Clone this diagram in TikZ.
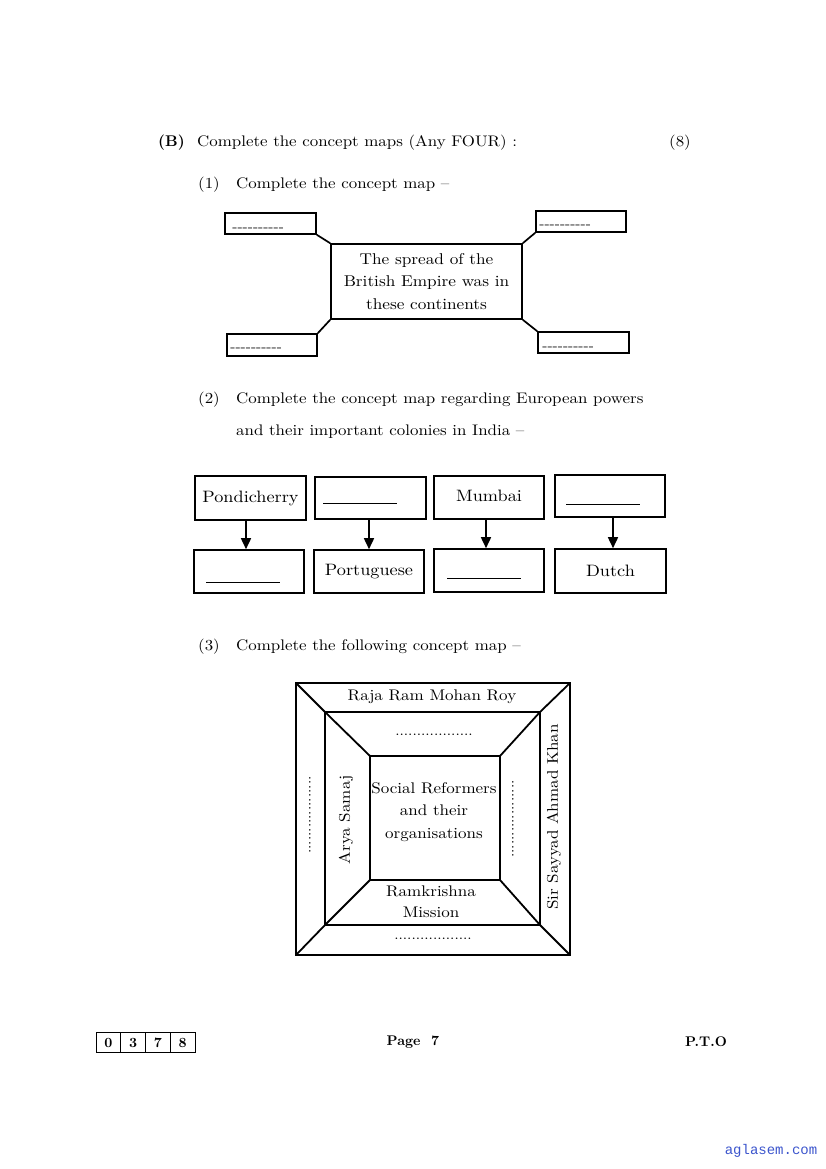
\documentclass[tikz,border=0pt]{standalone}
\usepackage{fontspec}
\setmainfont{lmroman10-regular.otf}[BoldFont=lmroman10-bold.otf, ItalicFont=lmroman10-italic.otf, FakeStretch=1.105]
\newfontfamily\boldlm{lmroman10-bold.otf}
\newfontfamily\linkfont{Liberation Mono}
\usetikzlibrary{arrows.meta,calc}
\definecolor{linkblue}{RGB}{60,85,205}
\tikzset{
  txt/.style={anchor=base west, inner sep=0pt, font=\fontsize{15.3}{19}\selectfont},
  bx/.style={draw, line width=1.6pt, inner sep=0pt},
  boxtext/.style={bx, align=center, font=\fontsize{15.6}{22.3}\selectfont},
  dashtxt/.style={anchor=base west, inner sep=0pt, font=\fontsize{14}{16}\selectfont},
  conn/.style={line width=1.7pt},
  arr/.style={line width=1.6pt, -{Triangle[length=11pt,width=10pt]}},
  blankline/.style={line width=1pt},
  sq/.style={line width=1.8pt, line join=miter},
  dots/.style={inner sep=0pt, font=\fontsize{14}{16}\selectfont},
  foot/.style={inner sep=0pt, font=\boldlm\fontsize{14}{16}\selectfont},
}
\begin{document}
\begin{tikzpicture}[x=1pt,y=-1pt]
\useasboundingbox[fill=white] (0,0) rectangle (826,1169);

% ---- header
\node[txt, font=\boldlm\fontsize{15.5}{19}\selectfont] (hb) at (158,147) {(B)};
\node[txt] (hq) at (197,147) {Complete the concept maps (Any FOUR) :};
\node[txt] (hm) at (669,147) {(8)};
\node[txt] (n1) at (198,189) {(1)};
\node[txt] (q1) at (236,189) {Complete the concept map \textendash};

% ---- map 1
\node[bx, minimum width=91pt, minimum height=21pt] (tl) at (270.5,223.5) {};
\node[bx, minimum width=90pt, minimum height=21pt] (tr) at (581,221.5) {};
\node[bx, minimum width=90pt, minimum height=22pt] (bl) at (272,345) {};
\node[bx, minimum width=91pt, minimum height=21pt] (br) at (583.5,342.5) {};
\node[boxtext, minimum width=191pt, minimum height=75pt] (c) at (426.5,281.5)
  {The spread of the\\British Empire was in\\these continents};
\node[dashtxt] (tlt) at ($(tl.south west)+(8,-3)$) {-{}-{}-{}-{}-{}-{}-{}-{}-{}-};
\node[dashtxt] (trt) at ($(tr.south west)+(4,-4)$) {-{}-{}-{}-{}-{}-{}-{}-{}-{}-};
\node[dashtxt] (blt) at ($(bl.south west)+(4,-5)$) {-{}-{}-{}-{}-{}-{}-{}-{}-{}-};
\node[dashtxt] (brt) at ($(br.south west)+(5,-3)$) {-{}-{}-{}-{}-{}-{}-{}-{}-{}-};
\draw[conn] (tl.south east) -- (c.north west);
\draw[conn] (tr.south west) -- (c.north east);
\draw[conn] (bl.north east) -- (c.south west);
\draw[conn] (br.north west) -- (c.south east);

% ---- question 2
\node[txt] (n2) at (198,403) {(2)};
\node[txt] (q2) at (236,403) {Complete the concept map regarding European powers};
\node[txt] (q2b) at (236,435) {and their important colonies in India \textendash};

% ---- map 2
\tikzset{b2/.style={bx, font=\fontsize{16.5}{18}\selectfont}}
\node[b2, minimum width=111pt, minimum height=44pt] (p1) at (250.5,498) {Pondicherry};
\node[b2, minimum width=111pt, minimum height=42pt] (p2) at (370.5,498) {};
\node[b2, minimum width=110pt, minimum height=43pt] (p3) at (489,497.5) {\raisebox{3pt}{Mumbai}};
\node[b2, minimum width=110pt, minimum height=42pt] (p4) at (610,496) {};
\node[b2, minimum width=110pt, minimum height=43pt] (r1) at (249,571.5) {};
\node[b2, minimum width=110pt, minimum height=43pt] (r2) at (369,571.5) {Portuguese};
\node[b2, minimum width=110pt, minimum height=43pt] (r3) at (489,570.5) {};
\node[b2, minimum width=111pt, minimum height=44pt] (r4) at (610.5,571) {Dutch};
\draw[blankline] ($(p2.west)+(9,5)$) -- ++(74,0);
\draw[blankline] ($(p4.west)+(12,8)$) -- ++(74,0);
\draw[blankline] ($(r1.west)+(13,10.5)$) -- ++(74,0);
\draw[blankline] ($(r3.west)+(14,7.5)$) -- ++(74,0);
\draw[arr] ([xshift=-4.5pt]p1.south) -- ([xshift=-4.5pt]p1.south |- r1.north);
\draw[arr] ([xshift=-1.5pt]p2.south) -- ([xshift=-1.5pt]p2.south |- r2.north);
\draw[arr] ([xshift=-3pt]p3.south) -- ([xshift=-3pt]p3.south |- r3.north);
\draw[arr] ([xshift=3pt]p4.south) -- ([xshift=3pt]p4.south |- r4.north);

% ---- question 3
\node[txt] (n3) at (198,650) {(3)};
\node[txt] (q3) at (236,650) {Complete the following concept map \textendash};

% ---- map 3
\coordinate (o1) at (296,683); \coordinate (o2) at (570,683);
\coordinate (o3) at (570,955); \coordinate (o4) at (296,955);
\coordinate (m1) at (325,712); \coordinate (m2) at (540,712);
\coordinate (m3) at (540,925); \coordinate (m4) at (325,925);
\coordinate (i1) at (370,756); \coordinate (i2) at (500,756);
\coordinate (i3) at (500,880); \coordinate (i4) at (370,880);
\draw[sq] (o1) -- (o2) -- (o3) -- (o4) -- cycle;
\draw[sq] (m1) -- (m2) -- (m3) -- (m4) -- cycle;
\draw[sq] (i1) -- (i2) -- (i3) -- (i4) -- cycle;
\draw[sq] (o1) -- (m1) -- (i1);
\draw[sq] (o2) -- (m2) -- (i2);
\draw[sq] (o3) -- (m3) -- (i3);
\draw[sq] (o4) -- (m4) -- (i4);
\tikzset{m3t/.style={inner sep=0pt, align=center, font=\fontsize{15.4}{22.5}\selectfont}}
\node[m3t] (rr) at (432,697) {Raja Ram Mohan Roy};
\node[m3t] (sr) at (434,812) {Social Reformers\\and their\\organisations};
\node[m3t, rotate=90] (as) at (346,820) {Arya Samaj};
\node[m3t, rotate=90] (sk) at (554,817) {Sir Sayyad Ahmad Khan};
\node[m3t, font=\fontsize{15.4}{21}\selectfont] (rm) at (431,902) {Ramkrishna\\Mission};
\node[dots] (dt) at (434,735) {..................};
\node[dots] (db) at (433,939) {..................};
\node[dots, rotate=90] (dl) at (310,815) {..................};
\node[dots, rotate=90] (dr) at (513,819) {..................};

% ---- footer
\foreach \d [count=\i from 0] in {0,3,7,8} {
  \node[draw, line width=1pt, minimum width=24.75pt, minimum height=20pt, inner sep=0pt,
        font=\boldlm\fontsize{14}{16}\selectfont] (d\i) at (108.4+24.75*\i,1042.5) {\d};
}
\node[foot] (pg) at (413,1042) {Page\ \ 7};
\node[foot] (pto) at (706,1042) {P.T.O};
\node[inner sep=0pt, text=linkblue, font=\linkfont\fontsize{14}{16}\selectfont] (lk) at (771,1151) {aglasem.com};
\end{tikzpicture}
\end{document}
